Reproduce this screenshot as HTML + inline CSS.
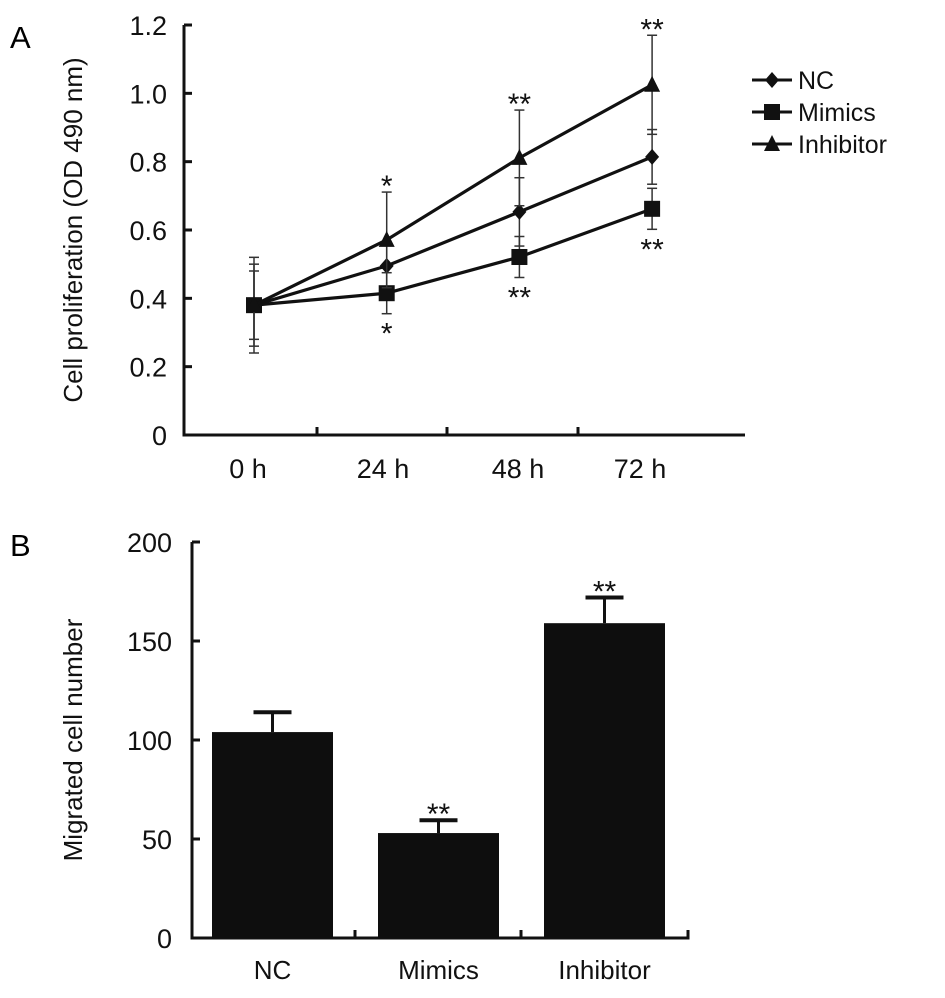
<!DOCTYPE html>
<html><head><meta charset="utf-8"><style>
html,body{margin:0;padding:0;background:#fff;}
svg{display:block;font-family:"Liberation Sans",Arial,sans-serif;}
</style></head><body>
<svg id="fig" width="945" height="998" viewBox="0 0 945 998">
<text x="10" y="48" font-size="31">A</text>
<text x="10" y="556" font-size="31">B</text>
<g id="chartA"></g>
<g id="chartB"></g>
</svg>
<script>
// Panel A data
const timeLabels = ["0 h","24 h","48 h","72 h"];
const ncValues = [0.38, 0.495, 0.653, 0.814];
const ncErr = [0.10, 0.06, 0.10, 0.08];
const mimicsValues = [0.38, 0.415, 0.521, 0.662];
const mimicsErr = [0.12, 0.06, 0.06, 0.06];
const inhibitorValues = [0.38, 0.571, 0.811, 1.025];
const inhibitorErr = [0.14, 0.14, 0.14, 0.145];
const yTicksA = [0, 0.2, 0.4, 0.6, 0.8, 1.0, 1.2];
const yTickLabelsA = ["0","0.2","0.4","0.6","0.8","1.0","1.2"];
const starsAbove = ["", "*", "**", "**"];
const starsBelow = ["", "*", "**", "**"];
// Panel B data
const groups = ["NC","Mimics","Inhibitor"];
const migrated = [104, 53, 159];
const migratedErr = [10, 6.5, 13];
const migratedStars = ["", "**", "**"];
const yTicksB = [0, 50, 100, 150, 200];

const NS = "http://www.w3.org/2000/svg";
function mk(parent, tag, attrs, text){
  const e = document.createElementNS(NS, tag);
  for (const k in attrs) e.setAttribute(k, attrs[k]);
  if (text !== undefined) e.textContent = text;
  parent.appendChild(e);
  return e;
}
// ---- Panel A ----
const A = document.getElementById('chartA');
const axA = {x0:184, y0:435, yTop:25};
const yA = v => axA.y0 - v/1.2*(axA.y0-axA.yTop);
const xA = i => 254 + i*132.7;
let e;
e = mk(A,'path',{d:`M${axA.x0} ${axA.yTop} L${axA.x0} ${axA.y0} L745 ${axA.y0}`,fill:'none',stroke:'#111','stroke-width':3});
 
yTicksA.forEach((t,i)=>{
  const y=yA(t);
  e = mk(A,'line',{x1:axA.x0,x2:axA.x0+8,y1:y,y2:y,stroke:'#111','stroke-width':3});
   
  e = mk(A,'text',{x:167,y:y+10,'font-size':27,'text-anchor':'end',fill:'#111'},yTickLabelsA[i]);
   
});
[317,447,578].forEach(x=>{
  e = mk(A,'line',{x1:x,x2:x,y1:axA.y0,y2:axA.y0-8,stroke:'#111','stroke-width':3});
   
});
const labelX=[248,383,518,640];
timeLabels.forEach((l,i)=>{
  e = mk(A,'text',{x:labelX[i],y:478,'font-size':27,'text-anchor':'middle',fill:'#111'},l);
   
});
e = mk(A,'text',{transform:'translate(82,230) rotate(-90)','font-size':26,'text-anchor':'middle',fill:'#111'},'Cell proliferation (OD 490 nm)');
 

function marker(g,type,x,y){
  let m;
  if(type==='diamond') m = mk(g,'polygon',{points:`${x},${y-8} ${x+7},${y} ${x},${y+8} ${x-7},${y}`,fill:'#111'});
  else if(type==='square') m = mk(g,'rect',{x:x-8,y:y-8,width:16,height:16,fill:'#111'});
  else m = mk(g,'polygon',{points:`${x},${y-9} ${x+8},${y+7} ${x-8},${y+7}`,fill:'#111'});
  return m;
}
const series=[
  {name:'nc',vals:ncValues,err:ncErr,m:'diamond'},
  {name:'mimics',vals:mimicsValues,err:mimicsErr,m:'square'},
  {name:'inhibitor',vals:inhibitorValues,err:inhibitorErr,m:'triangle'}
];
series.forEach(s=>{
  const g = mk(A,'g',{});
   
  s.vals.forEach((v,i)=>{
    const x=xA(i);
    e = mk(g,'line',{x1:x,x2:x,y1:yA(v-s.err[i]),y2:yA(v+s.err[i]),stroke:'#333','stroke-width':1.5});
     
    [v-s.err[i],v+s.err[i]].forEach(c=>{
      e = mk(g,'line',{x1:x-5,x2:x+5,y1:yA(c),y2:yA(c),stroke:'#333','stroke-width':1.5});
       
    });
  });
  e = mk(g,'polyline',{points:s.vals.map((v,i)=>`${xA(i)},${yA(v)}`).join(' '),fill:'none',stroke:'#111','stroke-width':3.2});
   
  s.vals.forEach((v,i)=>{
    e = marker(g,s.m,xA(i),yA(v));
     
  });
});
starsAbove.forEach((s,i)=>{
  if(!s) return;
  e = mk(A,'text',{x:xA(i),y:yA(inhibitorValues[i]+inhibitorErr[i])+4,'font-size':30,'text-anchor':'middle',fill:'#111'},s);
   
});
starsBelow.forEach((s,i)=>{
  if(!s) return;
  e = mk(A,'text',{x:xA(i),y:yA(mimicsValues[i]-mimicsErr[i])+30,'font-size':30,'text-anchor':'middle',fill:'#111'},s);
   
});
const legNames=['NC','Mimics','Inhibitor'];
series.forEach((s,i)=>{
  const y=80+i*32;
  const g = mk(A,'g',{});
   
  mk(g,'line',{x1:752,x2:792,y1:y,y2:y,stroke:'#111','stroke-width':3});
  marker(g,s.m,772,y);
  mk(g,'text',{x:798,y:y+9,'font-size':25,fill:'#111'},legNames[i]);
});
// ---- Panel B ----
const B = document.getElementById('chartB');
const axB={x0:192,y0:938,yTop:542};
const yB = v => axB.y0 - v/200*(axB.y0-axB.yTop);
const xB = i => 272.5 + i*166;
e = mk(B,'path',{d:`M${axB.x0} ${axB.yTop} L${axB.x0} ${axB.y0} L688 ${axB.y0} L688 ${axB.y0-8}`,fill:'none',stroke:'#111','stroke-width':3});
 
[355,521].forEach(x=>{
  e = mk(B,'line',{x1:x,x2:x,y1:axB.y0,y2:axB.y0-8,stroke:'#111','stroke-width':3});
   
});
yTicksB.forEach(t=>{
  const y=yB(t);
  e = mk(B,'line',{x1:axB.x0,x2:axB.x0+8,y1:y,y2:y,stroke:'#111','stroke-width':3});
   
  e = mk(B,'text',{x:172,y:y+10,'font-size':27,'text-anchor':'end',fill:'#111'},String(t));
   
});
e = mk(B,'text',{transform:'translate(82,740) rotate(-90)','font-size':26,'text-anchor':'middle',fill:'#111'},'Migrated cell number');
 
groups.forEach((gname,i)=>{
  const x=xB(i), top=yB(migrated[i]), et=yB(migrated[i]+migratedErr[i]);
  e = mk(B,'line',{x1:x,x2:x,y1:top,y2:et,stroke:'#111','stroke-width':3});
   
  e = mk(B,'line',{x1:x-19,x2:x+19,y1:et,y2:et,stroke:'#111','stroke-width':4});
   
  e = mk(B,'rect',{x:x-60.5,y:top,width:121,height:axB.y0-top,fill:'#0e0e0e'});
   
  e = mk(B,'text',{x:x,y:979,'font-size':26,'text-anchor':'middle',fill:'#111'},gname);
   
  if(migratedStars[i]){
    e = mk(B,'text',{x:x,y:et+4,'font-size':30,'text-anchor':'middle',fill:'#111'},migratedStars[i]);
     
  }
});
</script>
</body></html>
